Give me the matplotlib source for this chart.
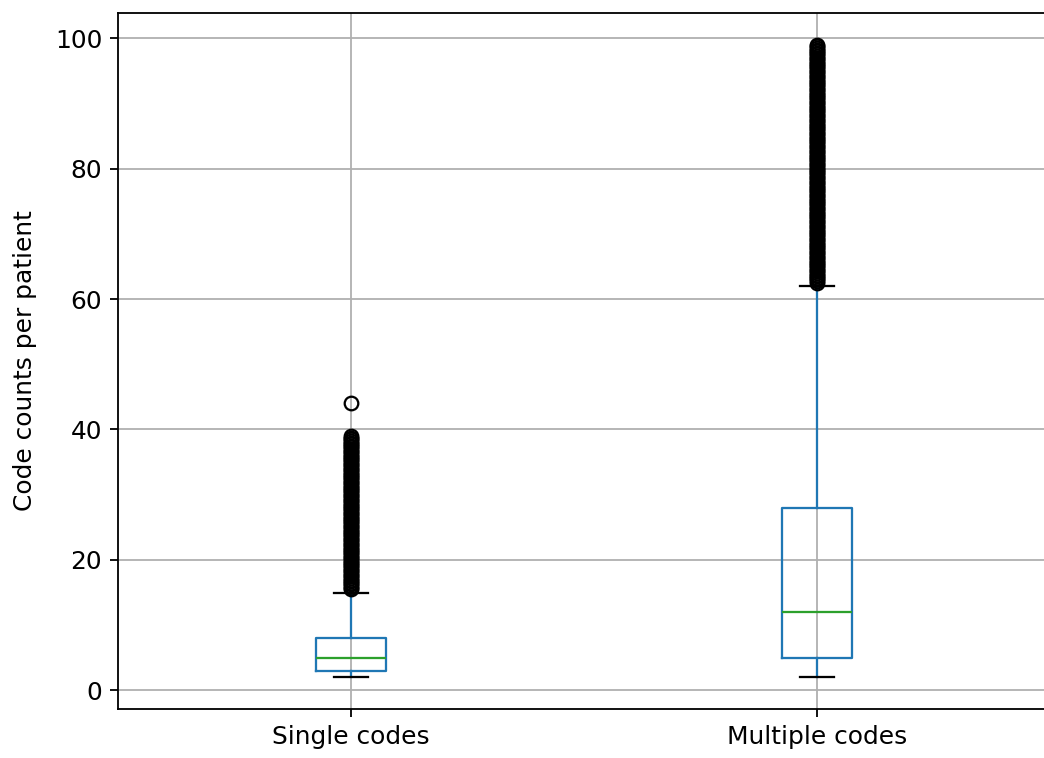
import matplotlib
matplotlib.use("Agg")
import matplotlib.pyplot as plt

# 数据
labels = ["Single codes", "Multiple codes"]
whislo = [2, 2]
q1 = [3, 5]
med = [5, 12]
q3 = [8, 28]
whishi = [15, 62]

# 离群点非常密集，图中呈实心黑柱
fliers_single = [
    15.5, 15.75, 16, 16.25, 16.5, 16.75, 17, 17.25, 17.5, 17.75,
    18, 18.25, 18.5, 18.75, 19, 19.25, 19.5, 19.75, 20, 20.25,
    20.5, 20.75, 21, 21.25, 21.5, 21.75, 22, 22.25, 22.5, 22.75,
    23, 23.25, 23.5, 23.75, 24, 24.25, 24.5, 24.75, 25, 25.25,
    25.5, 25.75, 26, 26.25, 26.5, 26.75, 27, 27.25, 27.5, 27.75,
    28, 28.25, 28.5, 28.75, 29, 29.25, 29.5, 29.75, 30, 30.25,
    30.5, 30.75, 31, 31.25, 31.5, 31.75, 32, 32.25, 32.5, 32.75,
    33, 33.25, 33.5, 33.75, 34, 34.25, 34.5, 34.75, 35, 35.25,
    35.5, 35.75, 36, 36.25, 36.5, 36.75, 37, 37.25, 37.5, 37.75,
    38, 38.25, 38.5, 38.75, 39, 44,
]
fliers_multiple = [
    62.5, 62.75, 63, 63.25, 63.5, 63.75, 64, 64.25, 64.5, 64.75,
    65, 65.25, 65.5, 65.75, 66, 66.25, 66.5, 66.75, 67, 67.25,
    67.5, 67.75, 68, 68.25, 68.5, 68.75, 69, 69.25, 69.5, 69.75,
    70, 70.25, 70.5, 70.75, 71, 71.25, 71.5, 71.75, 72, 72.25,
    72.5, 72.75, 73, 73.25, 73.5, 73.75, 74, 74.25, 74.5, 74.75,
    75, 75.25, 75.5, 75.75, 76, 76.25, 76.5, 76.75, 77, 77.25,
    77.5, 77.75, 78, 78.25, 78.5, 78.75, 79, 79.25, 79.5, 79.75,
    80, 80.25, 80.5, 80.75, 81, 81.25, 81.5, 81.75, 82, 82.25,
    82.5, 82.75, 83, 83.25, 83.5, 83.75, 84, 84.25, 84.5, 84.75,
    85, 85.25, 85.5, 85.75, 86, 86.25, 86.5, 86.75, 87, 87.25,
    87.5, 87.75, 88, 88.25, 88.5, 88.75, 89, 89.25, 89.5, 89.75,
    90, 90.25, 90.5, 90.75, 91, 91.25, 91.5, 91.75, 92, 92.25,
    92.5, 92.75, 93, 93.25, 93.5, 93.75, 94, 94.25, 94.5, 94.75,
    95, 95.25, 95.5, 95.75, 96, 96.25, 96.5, 96.75, 97, 97.25,
    97.5, 97.75, 98, 98.25, 98.5, 98.75, 99,
]
fliers = [fliers_single, fliers_multiple]

stats = []
for i in range(len(labels)):
    stats.append({"label": labels[i], "whislo": whislo[i], "q1": q1[i],
                  "med": med[i], "q3": q3[i], "whishi": whishi[i],
                  "fliers": fliers[i]})

DPI = 163
plt.rcParams["font.size"] = 11
fig = plt.figure(figsize=(1044 / DPI, 758 / DPI), dpi=DPI)
ax = fig.add_axes([118 / 1044, 49 / 758, 932 / 1044, 696 / 758])

ax.bxp(stats,
       boxprops=dict(color="#1f77b4"),
       whiskerprops=dict(color="#1f77b4"),
       medianprops=dict(color="#2ca02c"),
       capprops=dict(color="black"),
       flierprops=dict(marker="o", markeredgecolor="black", markerfacecolor="none"))

ax.set_ylim(-2.85, 103.85)
ax.set_xlim(0.5, 2.5)
ax.grid(True, color="#b0b0b0", linewidth=0.8)
ax.set_axisbelow(True)
ax.set_ylabel("Code counts per patient", labelpad=8)

fig.savefig("out.png", dpi=DPI)
